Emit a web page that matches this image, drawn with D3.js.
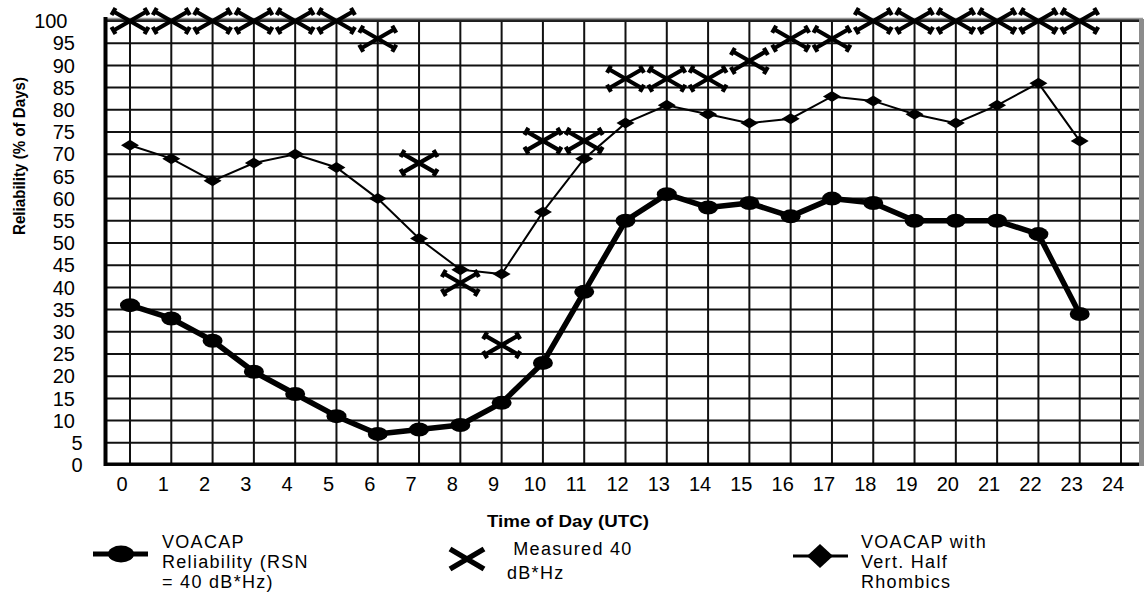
<!DOCTYPE html>
<html>
<head>
<meta charset="utf-8">
<script src="https://cdn.jsdelivr.net/npm/d3@7"></script>
<style>
  html, body { margin: 0; padding: 0; background: #fff; }
  svg { display: block; }
  text { font-family: "Liberation Sans", Arial, sans-serif; fill: #000; }
</style>
</head>
<body>
<svg id="chart" width="1146" height="597"></svg>
<script>
// ---------------- data ----------------
const hours = [0,1,2,3,4,5,6,7,8,9,10,11,12,13,14,15,16,17,18,19,20,21,22,23];
const voacapReliability = [36,33,28,21,16,11,7,8,9,14,23,39,55,61,58,59,56,60,59,55,55,55,52,34];
const voacapRhombics = [72,69,64,68,70,67,60,51,44,43,57,69,77,81,79,77,78,83,82,79,77,81,86,73];
const measured40 = [100,100,100,100,100,100,96,68,41,27,73,73,87,87,87,91,96,96,100,100,100,100,100,100];
const xTickLabels = [0,1,2,3,4,5,6,7,8,9,10,11,12,13,14,15,16,17,18,19,20,21,22,23,24];
const yTickLabels = [0,5,10,15,20,25,30,35,40,45,50,55,60,65,70,75,80,85,90,95,100];
const xTitle = "Time of Day (UTC)";
const yTitle = "Reliability (% of Days)";
const legendItems = [
  ["VOACAP", "Reliability (RSN", "= 40 dB*Hz)"],
  [" Measured 40", "dB*Hz"],
  ["VOACAP with", "Vert. Half", "Rhombics"]
];

// ---------------- layout ----------------
const svg = d3.select("#chart");
const frame = { left: 106, right: 1141, top: 20, bottom: 464 };
const x = d3.scaleLinear().domain([0, 24]).range([130, 1121]);
const y = d3.scaleLinear().domain([0, 100]).range([465, 21]);

// grid
const grid = svg.append("g");
grid.selectAll("line.h").data(yTickLabels).join("line")
  .attr("x1", frame.left).attr("x2", frame.right)
  .attr("y1", d => y(d)).attr("y2", d => y(d))
  .attr("stroke", "#111").attr("stroke-width", 2);
grid.selectAll("line.v").data(xTickLabels).join("line")
  .attr("x1", d => x(d)).attr("x2", d => x(d))
  .attr("y1", frame.top).attr("y2", frame.bottom)
  .attr("stroke", "#111").attr("stroke-width", 2);

// frame: gray shadow top/right, heavy left/bottom
svg.append("line").attr("x1", frame.left).attr("x2", frame.right + 2)
  .attr("y1", 18.5).attr("y2", 18.5).attr("stroke", "#9a9a9a").attr("stroke-width", 1.5);
svg.append("line").attr("x1", frame.left).attr("x2", frame.right - 2)
  .attr("y1", 20.5).attr("y2", 20.5).attr("stroke", "#222").attr("stroke-width", 2.5);
svg.append("line").attr("x1", 1141.5).attr("x2", 1141.5)
  .attr("y1", 19).attr("y2", 466).attr("stroke", "#8c8c8c").attr("stroke-width", 5);
svg.append("line").attr("x1", 105.5).attr("x2", 105.5)
  .attr("y1", 17).attr("y2", 466).attr("stroke", "#000").attr("stroke-width", 4);
svg.append("line").attr("x1", 104).attr("x2", 1139)
  .attr("y1", 464).attr("y2", 464).attr("stroke", "#000").attr("stroke-width", 3);

// y tick labels
svg.append("g").selectAll("text").data(yTickLabels).join("text")
  .attr("x", d => 75 + (2 - String(d).length) * 7.5)
  .attr("y", d => y(d))
  .attr("dy", "0.36em")
  .attr("text-anchor", "end")
  .attr("font-size", 20)
  .text(d => d);

// x tick labels
svg.append("g").selectAll("text").data(xTickLabels).join("text")
  .attr("x", d => x(d) - 8)
  .attr("y", 491)
  .attr("text-anchor", "middle")
  .attr("font-size", 20)
  .text(d => d);

// axis titles
svg.append("text")
  .attr("x", 487).attr("y", 527)
  .attr("font-size", 17).attr("font-weight", "bold")
  .attr("textLength", 162).attr("lengthAdjust", "spacingAndGlyphs")
  .text(xTitle);
svg.append("text")
  .attr("transform", "translate(25,156) rotate(-90)")
  .attr("text-anchor", "middle")
  .attr("font-size", 17).attr("font-weight", "bold")
  .attr("textLength", 158).attr("lengthAdjust", "spacingAndGlyphs")
  .text(yTitle);

// series lines
const line = (vals) => d3.line().x((d, i) => x(hours[i])).y(d => y(d))(vals);
svg.append("path").attr("d", line(voacapRhombics))
  .attr("fill", "none").attr("stroke", "#000").attr("stroke-width", 2);
svg.append("path").attr("d", line(voacapReliability))
  .attr("fill", "none").attr("stroke", "#000").attr("stroke-width", 5.5)
  .attr("stroke-linejoin", "round");

// markers
const diamond = (w, h) => `M${-w/2},0L0,${-h/2}L${w/2},0L0,${h/2}Z`;
svg.append("g").selectAll("path").data(voacapRhombics).join("path")
  .attr("transform", (d, i) => `translate(${x(hours[i])},${y(d)})`)
  .attr("d", diamond(18, 11)).attr("fill", "#000");
svg.append("g").selectAll("ellipse").data(voacapReliability).join("ellipse")
  .attr("cx", (d, i) => x(hours[i])).attr("cy", d => y(d))
  .attr("rx", 10).attr("ry", 7).attr("fill", "#000");

// X markers with barbed ends
function xMarkPath(w, h, barb) {
  const a = w / 2, b = h / 2;
  const L = Math.hypot(a, b), px = -b / L * barb, py = a / L * barb;
  let p = `M${-a},${-b}L${a},${b}M${-a},${b}L${a},${-b}`;
  [[a, b], [-a, -b]].forEach(([ex, ey]) => { p += `M${ex + px},${ey + py}L${ex - px},${ey - py}`; });
  const qx = b / L * barb, qy = a / L * barb;
  [[a, -b], [-a, b]].forEach(([ex, ey]) => { p += `M${ex + qx},${ey + qy}L${ex - qx},${ey - qy}`; });
  return p;
}
svg.append("g").selectAll("path").data(measured40).join("path")
  .attr("transform", (d, i) => `translate(${x(hours[i])},${y(d)})`)
  .attr("d", xMarkPath(33, 19, 4))
  .attr("fill", "none").attr("stroke", "#000").attr("stroke-width", 4.2);

// legend
const lg = svg.append("g");
// item 1
lg.append("line").attr("x1", 93).attr("x2", 148).attr("y1", 554).attr("y2", 554)
  .attr("stroke", "#000").attr("stroke-width", 5);
lg.append("ellipse").attr("cx", 121).attr("cy", 554).attr("rx", 13).attr("ry", 8.5).attr("fill", "#000");
lg.append("g").selectAll("text").data(legendItems[0]).join("text")
  .attr("x", 162).attr("y", (d, i) => 548 + i * 20)
  .attr("font-size", 18).attr("letter-spacing", 1.3)
  .text(d => d);
// item 2
lg.append("path").attr("transform", "translate(467,559)")
  .attr("d", "M-17,-10L17,10M-17,10L17,-10")
  .attr("fill", "none").attr("stroke", "#000").attr("stroke-width", 5.5);
lg.append("g").selectAll("text").data(legendItems[1]).join("text")
  .attr("x", 507).attr("y", (d, i) => 555 + i * 24)
  .attr("font-size", 18).attr("letter-spacing", 1.3)
  .style("white-space", "pre").text(d => d);
// item 3
lg.append("line").attr("x1", 793).attr("x2", 848).attr("y1", 556).attr("y2", 556)
  .attr("stroke", "#000").attr("stroke-width", 3);
lg.append("path").attr("transform", "translate(820,556)")
  .attr("d", diamond(26, 24)).attr("fill", "#000");
lg.append("g").selectAll("text").data(legendItems[2]).join("text")
  .attr("x", 861).attr("y", (d, i) => 548 + i * 20)
  .attr("font-size", 18).attr("letter-spacing", 1.3)
  .text(d => d);
</script>
</body>
</html>
